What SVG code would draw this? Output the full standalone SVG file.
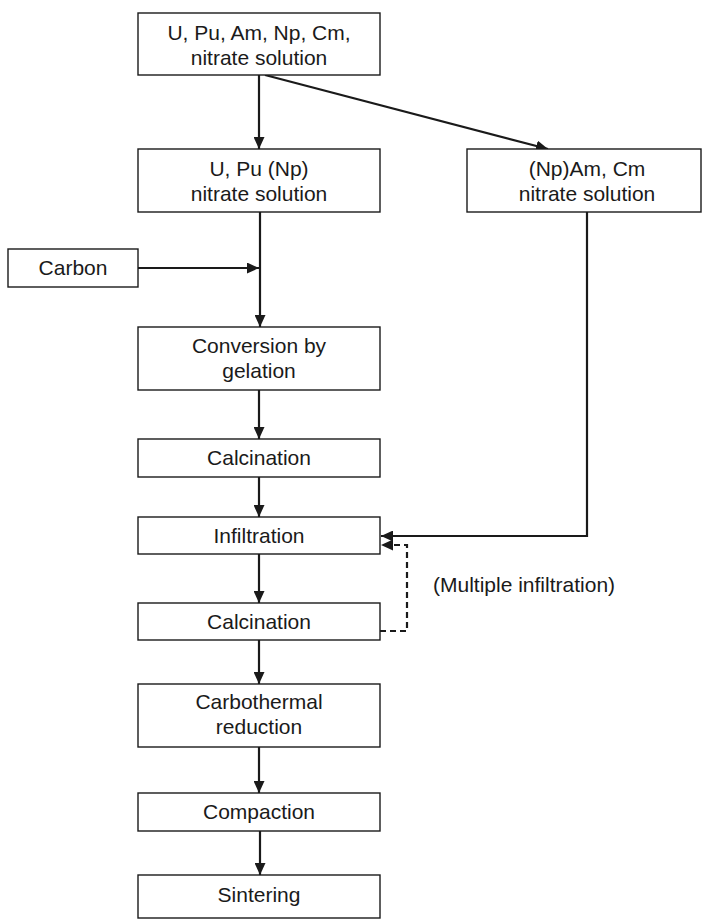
<svg xmlns="http://www.w3.org/2000/svg" width="703" height="920" viewBox="0 0 703 920">
  <style>
    .box { fill: #ffffff; stroke: #1a1a1a; stroke-width: 1.4; }
    .lbl { font-family: "Liberation Sans", Arial, sans-serif; font-size: 21px; fill: #1a1a1a; text-anchor: middle; }
    .note { font-family: "Liberation Sans", Arial, sans-serif; font-size: 21px; fill: #1a1a1a; }
    .flow { fill: none; stroke: #1a1a1a; stroke-width: 2.2; marker-end: url(#arrow); }
    .loop { fill: none; stroke: #1a1a1a; stroke-width: 2.2; stroke-dasharray: 6 4; marker-end: url(#arrow); }
  </style>
  <defs>
    <marker id="arrow" markerUnits="userSpaceOnUse" markerWidth="12" markerHeight="11" viewBox="0 0 12 11" refX="12" refY="5.5" orient="auto">
      <path d="M0,0 L12,5.5 L0,11 Z" fill="#1a1a1a"/>
    </marker>
  </defs>
  <rect width="703" height="920" fill="#ffffff"/>

  <g id="connectors">
    <line class="flow" x1="259" y1="75" x2="259" y2="149"/>
    <line class="flow" x1="265" y1="75" x2="548" y2="149"/>
    <line class="flow" x1="260" y1="212" x2="260" y2="327"/>
    <line class="flow" x1="138" y1="268" x2="259" y2="268"/>
    <line class="flow" x1="259" y1="390" x2="259" y2="439"/>
    <line class="flow" x1="259" y1="477" x2="259" y2="517"/>
    <line class="flow" x1="259" y1="554" x2="259" y2="603"/>
    <line class="flow" x1="259" y1="640" x2="259" y2="684"/>
    <line class="flow" x1="259" y1="747" x2="259" y2="793"/>
    <line class="flow" x1="260" y1="831" x2="260" y2="875"/>
    <polyline class="flow" points="587,212 587,536 381,536"/>
    <polyline class="loop" points="380,631 407,631 407,545 381,545"/>
  </g>

  <g id="n-feed">
    <rect class="box" x="138" y="13" width="242" height="62"/>
    <text class="lbl" x="259" y="40">U, Pu, Am, Np, Cm,</text>
    <text class="lbl" x="259" y="65">nitrate solution</text>
  </g>
  <g id="n-upu">
    <rect class="box" x="138" y="149" width="242" height="63"/>
    <text class="lbl" x="259" y="176">U, Pu (Np)</text>
    <text class="lbl" x="259" y="201">nitrate solution</text>
  </g>
  <g id="n-amcm">
    <rect class="box" x="467" y="149" width="234" height="63"/>
    <text class="lbl" x="587" y="176">(Np)Am, Cm</text>
    <text class="lbl" x="587" y="201">nitrate solution</text>
  </g>
  <g id="n-carbon">
    <rect class="box" x="8" y="249" width="130" height="38"/>
    <text class="lbl" x="73" y="275">Carbon</text>
  </g>
  <g id="n-gelation">
    <rect class="box" x="138" y="327" width="242" height="63"/>
    <text class="lbl" x="259" y="353">Conversion by</text>
    <text class="lbl" x="259" y="378">gelation</text>
  </g>
  <g id="n-calcination1">
    <rect class="box" x="138" y="439" width="242" height="38"/>
    <text class="lbl" x="259" y="465">Calcination</text>
  </g>
  <g id="n-infiltration">
    <rect class="box" x="138" y="517" width="242" height="37"/>
    <text class="lbl" x="259" y="543">Infiltration</text>
  </g>
  <g id="n-calcination2">
    <rect class="box" x="138" y="603" width="242" height="37"/>
    <text class="lbl" x="259" y="629">Calcination</text>
  </g>
  <g id="n-carbothermal">
    <rect class="box" x="138" y="684" width="242" height="63"/>
    <text class="lbl" x="259" y="709">Carbothermal</text>
    <text class="lbl" x="259" y="734">reduction</text>
  </g>
  <g id="n-compaction">
    <rect class="box" x="138" y="793" width="242" height="38"/>
    <text class="lbl" x="259" y="819">Compaction</text>
  </g>
  <g id="n-sintering">
    <rect class="box" x="138" y="875" width="242" height="43"/>
    <text class="lbl" x="259" y="902">Sintering</text>
  </g>

  <text class="note" x="433" y="592">(Multiple infiltration)</text>
</svg>
